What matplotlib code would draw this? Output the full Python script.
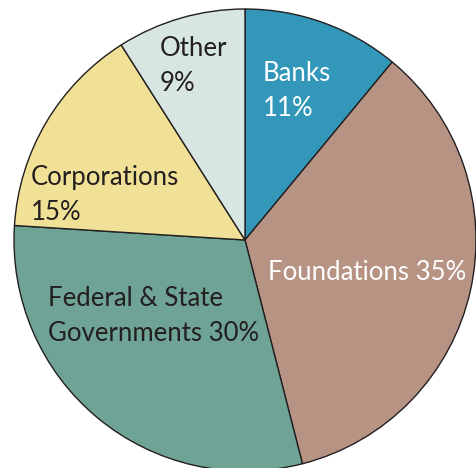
import matplotlib
matplotlib.use("Agg")
import matplotlib.pyplot as plt

# data
labels = ["Banks", "Foundations", "Federal & State Governments", "Corporations", "Other"]
shares = [11, 35, 30, 15, 9]
colors = ["#3397ba", "#b79384", "#6fa396", "#f1e196", "#d8e6e2"]

# text shown on each slice (pixel position from top-left, colour)
slice_text = ["Banks\n11%", "Foundations 35%", "Federal & State\nGovernments 30%", "Corporations\n15%", "Other\n9%"]
text_pos = [(263, 91), (268, 272), (48, 316), (31, 195), (160, 66)]
text_col = ["white", "white", "#231f20", "#231f20", "#231f20"]

W, H = 477, 468
plt.rcParams['font.family'] = ['Lato', 'DejaVu Sans']

fig = plt.figure(figsize=(W / 100, H / 100), dpi=100)
ax = fig.add_axes([0, 0, 1, 1])

ax.pie(shares, colors=colors, startangle=90, counterclock=False,
       radius=231, center=(245, H - 240), frame=True,
       wedgeprops=dict(edgecolor="#231f20", linewidth=1.0))
ax.set_xlim(0, W)
ax.set_ylim(0, H)
ax.set_aspect("equal")
ax.axis("off")

for t, (x, y), c in zip(slice_text, text_pos, text_col):
    ax.text(x, H - y, t, color=c, fontsize=18.5, ha="left", va="center",
            linespacing=1.5)

fig.savefig("out.png", dpi=100)
